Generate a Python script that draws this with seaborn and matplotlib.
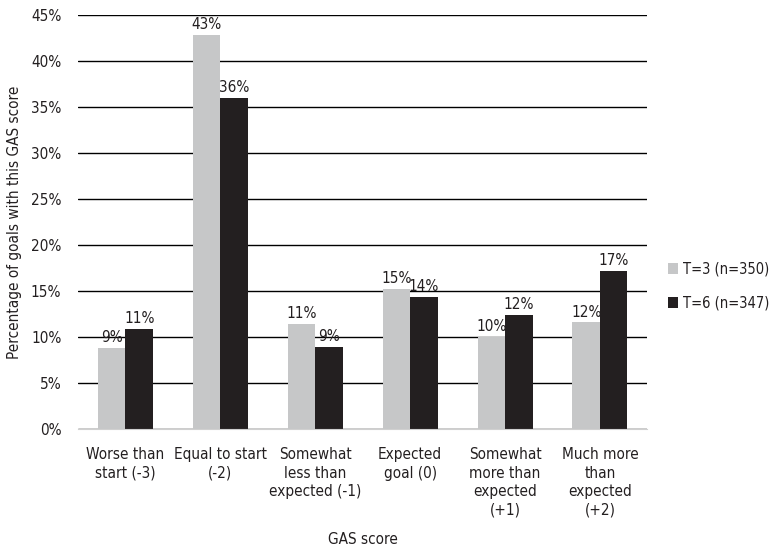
import matplotlib
matplotlib.use("Agg")
import matplotlib.pyplot as plt
import pandas as pd
import seaborn as sns
from matplotlib.ticker import PercentFormatter

# Values
categories = [
    "Worse than\nstart (-3)",
    "Equal to start\n(-2)",
    "Somewhat\nless than\nexpected (-1)",
    "Expected\ngoal (0)",
    "Somewhat\nmore than\nexpected\n(+1)",
    "Much more\nthan\nexpected\n(+2)",
]
series_names = ["T=3 (n=350)", "T=6 (n=347)"]
t3_values = [8.8, 42.8, 11.4, 15.2, 10.0, 11.6]
t6_values = [10.9, 36.0, 8.9, 14.4, 12.4, 17.2]
t3_labels = ["9%", "43%", "11%", "15%", "10%", "12%"]
t6_labels = ["11%", "36%", "9%", "14%", "12%", "17%"]

df = pd.DataFrame({
    "category": categories * 2,
    "series": [series_names[0]] * 6 + [series_names[1]] * 6,
    "value": t3_values + t6_values,
})

sns.set_style("white")
plt.rcParams["font.family"] = ["DejaVu Sans"]
plt.rcParams["font.stretch"] = "condensed"
fs = 11
txt = "#231F20"

fig = plt.figure(figsize=(7.8, 5.53), dpi=100)
ax = fig.add_axes([0.1, 0.224, 0.73, 0.749])

palette = {series_names[0]: "#C6C7C8", series_names[1]: "#231F20"}
sns.barplot(data=df, x="category", y="value", hue="series", palette=palette,
            width=0.58, gap=0, saturation=1, linewidth=0, ax=ax, zorder=3)

# percentage labels above each bar
for container, labels in zip(ax.containers, [t3_labels, t6_labels]):
    ax.bar_label(container, labels=labels, padding=2, fontsize=fs, color=txt)

ax.set_xlim(-0.5, 5.5)
ax.set_ylim(0, 45)
ax.set_yticks(range(0, 46, 5))
ax.yaxis.set_major_formatter(PercentFormatter(decimals=0))
ax.grid(axis="y", color="#000000", linewidth=1, zorder=0)
ax.set_axisbelow(True)
for s in ["top", "right", "left"]:
    ax.spines[s].set_visible(False)
ax.spines["bottom"].set_color("#D0D0D0")
ax.spines["bottom"].set_zorder(4)
ax.tick_params(axis="both", length=0, labelsize=fs, colors=txt)
ax.tick_params(axis="x", pad=13)
ax.tick_params(axis="y", pad=12)
for lbl in ax.get_xticklabels():
    lbl.set_verticalalignment("top")
    lbl.set_linespacing(1.3)

ax.set_xlabel("GAS score", fontsize=fs, color=txt, labelpad=10)
ax.set_ylabel("Percentage of goals with this GAS score", fontsize=fs, color=txt,
              labelpad=6)

ax.legend(loc="center left", bbox_to_anchor=(1.02, 0.345), frameon=False,
          fontsize=10.5, handlelength=0.75, handleheight=0.75, handletextpad=0.3,
          labelspacing=1.3, labelcolor=txt, borderaxespad=0.2)

fig.savefig("out.png", dpi=100)
plt.close(fig)
